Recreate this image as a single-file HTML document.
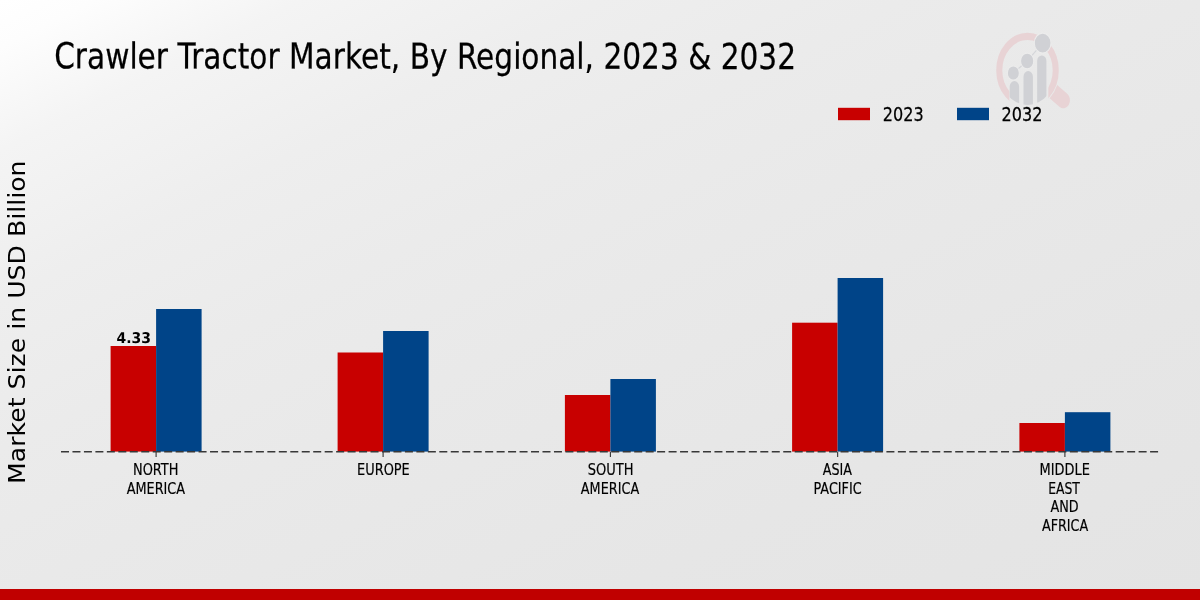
<!DOCTYPE html>
<html>
<head>
<meta charset="utf-8">
<title>Crawler Tractor Market, By Regional, 2023 &amp; 2032</title>
<style>
html,body{margin:0;padding:0;background:#e8e8e8;}
body{width:1200px;height:600px;overflow:hidden;}
svg{display:block;}
text{font-family:"DejaVu Sans","Liberation Sans",sans-serif;fill:#000;}
</style>
</head>
<body>
<svg width="1200" height="600" viewBox="0 0 1200 600">
<defs>
<linearGradient id="bg" gradientUnits="userSpaceOnUse" x1="0" y1="0" x2="480" y2="960">
<stop offset="0" stop-color="#ffffff"/>
<stop offset="0.04" stop-color="#fdfdfd"/>
<stop offset="0.125" stop-color="#f4f4f4"/>
<stop offset="0.25" stop-color="#eeeeee"/>
<stop offset="0.375" stop-color="#ebebeb"/>
<stop offset="0.5" stop-color="#e9e9e9"/>
<stop offset="0.75" stop-color="#e6e6e6"/>
<stop offset="1" stop-color="#e4e4e4"/>
</linearGradient>
</defs>
<rect x="0" y="0" width="1200" height="600" fill="url(#bg)"/>
<g transform="translate(1027.5,70.3) scale(0.833,1)">
<defs>
<clipPath id="lgRing"><path d="M-60,-60H60V60H25V0H-21.8V60H-60Z"/></clipPath>
<clipPath id="lgBars"><circle cx="0" cy="0" r="34.6"/></clipPath>
<clipPath id="lgHandle"><path clip-rule="evenodd" d="M-70,-70H90V70H-70Z M38.6,0A38.6,38.6 0 1 0 -38.6,0A38.6,38.6 0 1 0 38.6,0Z"/></clipPath>
</defs>
<g clip-path="url(#lgRing)"><circle cx="0" cy="0" r="33.9" fill="none" stroke="#e8d3d5" stroke-width="7.3"/></g>
<g clip-path="url(#lgHandle)"><line x1="24" y1="16.2" x2="43" y2="30" stroke="#e8d3d5" stroke-width="16" stroke-linecap="round"/></g>
<g fill="#d0d1d5">
<g clip-path="url(#lgBars)">
<path d="M-21.4,40V16.4A5.65,5.65 0 0 1 -10.1,16.4V40Z"/>
<path d="M-4.8,40V6.4A5.65,5.65 0 0 1 6.5,6.4V40Z"/>
<path d="M11.6,40V-9.3A5.55,5.55 0 0 1 22.7,-9.3V40Z"/>
</g>
<path d="M-17,2.7L-0.4,-9.3L18.2,-27.2" fill="none" stroke="#d4d5d9" stroke-width="1.3"/>
<g stroke="#ececec" stroke-width="1.2">
<circle cx="-17" cy="2.7" r="7.2"/>
<circle cx="-0.4" cy="-9.3" r="7.9"/>
<circle cx="18.2" cy="-27.2" r="10"/>
</g>
</g>
</g>

<rect x="0" y="589" width="1200" height="11" fill="#c00000"/>
<text transform="translate(54.20,68.35) rotate(0.05) scale(0.8272,1)" font-size="35.8" stroke="#000" stroke-width="0.25">Crawler Tractor Market, By Regional, 2023 &amp; 2032</text>
<text transform="translate(25.3,483.9) scale(0.9,1) rotate(-90)" font-size="25.17">Market Size in USD Billion</text>
<g fill="#c80000">
<rect x="110.6" y="346" width="45.5" height="105.6"/>
<rect x="337.6" y="352.5" width="45.5" height="99.1"/>
<rect x="564.9" y="395" width="45.5" height="56.6"/>
<rect x="792.1" y="322.7" width="45.5" height="128.9"/>
<rect x="1019.4" y="423" width="45.5" height="28.6"/>
</g>
<g fill="#004488">
<rect x="156.1" y="309" width="45.5" height="142.6"/>
<rect x="383.1" y="331" width="45.5" height="120.6"/>
<rect x="610.4" y="379" width="45.5" height="72.6"/>
<rect x="837.6" y="278" width="45.5" height="173.6"/>
<rect x="1064.9" y="412.2" width="45.5" height="39.4"/>
</g>
<line x1="61" y1="451.8" x2="1158.3" y2="451.8" stroke="#383838" stroke-width="1.6" stroke-dasharray="8 3.464"/>
<g stroke="#333" stroke-width="1.1">
<line x1="156.1" y1="452" x2="156.1" y2="457"/>
<line x1="383.1" y1="452" x2="383.1" y2="457"/>
<line x1="610.4" y1="452" x2="610.4" y2="457"/>
<line x1="837.65" y1="452" x2="837.65" y2="457"/>
<line x1="1064.9" y1="452" x2="1064.9" y2="457"/>
</g>
<text transform="translate(116.46,343.1) rotate(0.05) scale(0.9432,1)" font-size="14.8" font-weight="bold">4.33</text>
<text transform="translate(132.97,475.0) scale(0.8469,1)" font-size="15.28" stroke="#000" stroke-width="0.18">NORTH</text>
<text transform="translate(126.66,493.7) scale(0.8417,1)" font-size="15.28" stroke="#000" stroke-width="0.18">AMERICA</text>
<text transform="translate(357.05,475.0) scale(0.8468,1)" font-size="15.28" stroke="#000" stroke-width="0.18">EUROPE</text>
<text transform="translate(587.72,475.0) scale(0.8540,1)" font-size="15.28" stroke="#000" stroke-width="0.18">SOUTH</text>
<text transform="translate(580.83,493.7) scale(0.8395,1)" font-size="15.28" stroke="#000" stroke-width="0.18">AMERICA</text>
<text transform="translate(822.76,475.0) scale(0.8342,1)" font-size="15.28" stroke="#000" stroke-width="0.18">ASIA</text>
<text transform="translate(813.44,493.7) scale(0.8391,1)" font-size="15.28" stroke="#000" stroke-width="0.18">PACIFIC</text>
<text transform="translate(1039.55,475.0) scale(0.8489,1)" font-size="15.28" stroke="#000" stroke-width="0.18">MIDDLE</text>
<text transform="translate(1048.19,493.7) scale(0.8121,1)" font-size="15.28" stroke="#000" stroke-width="0.18">EAST</text>
<text transform="translate(1050.49,512.4) scale(0.8386,1)" font-size="15.28" stroke="#000" stroke-width="0.18">AND</text>
<text transform="translate(1041.89,531.1) scale(0.8365,1)" font-size="15.28" stroke="#000" stroke-width="0.18">AFRICA</text>
<rect x="838" y="107.8" width="32" height="12.4" fill="#c80000"/>
<text transform="translate(882.80,121.2) scale(0.8164,1)" font-size="19.7" stroke="#000" stroke-width="0.25">2023</text>
<rect x="957" y="107.8" width="32" height="12.4" fill="#004488"/>
<text transform="translate(1001.60,121.2) scale(0.8181,1)" font-size="19.7" stroke="#000" stroke-width="0.25">2032</text>
</svg>
</body>
</html>
